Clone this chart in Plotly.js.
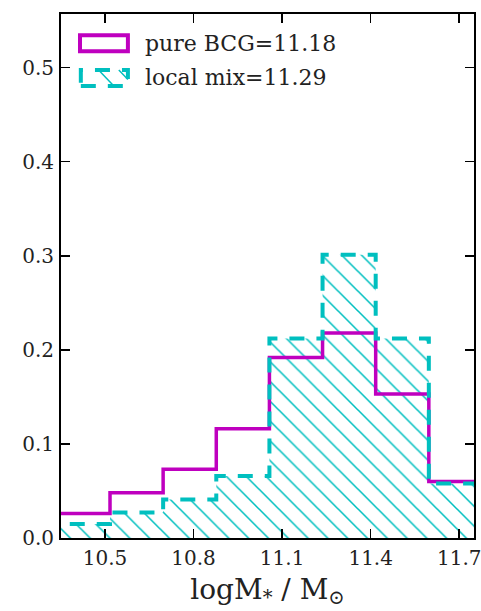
<!DOCTYPE html>
<html>
<head>
<meta charset="utf-8">
<script src="https://cdn.plot.ly/plotly-3.0.1.min.js"></script>
<style>
  html, body { margin: 0; padding: 0; background: #fff; }
  #chart { width: 481px; height: 611px; }
</style>
</head>
<body>
<div id="chart"></div>
<script>
// ---- data ----
const binEdges = [10.337, 10.517, 10.697, 10.877, 11.057, 11.237, 11.417, 11.597, 11.777];
const pureBCG  = [0.026, 0.048, 0.073, 0.116, 0.192, 0.218, 0.153, 0.060];
const localMix = [0.015, 0.027, 0.041, 0.066, 0.212, 0.301, 0.212, 0.058];
const seriesNames = ["pure BCG=11.18", "local mix=11.29"];
const xTicks = [10.5, 10.8, 11.1, 11.4, 11.7];
const xTickLabels = ["10.5", "10.8", "11.1", "11.4", "11.7"];
const yTicks = [0.0, 0.1, 0.2, 0.3, 0.4, 0.5];
const yTickLabels = ["0.0", "0.1", "0.2", "0.3", "0.4", "0.5"];

const MAGENTA = "#bf00bf";
const CYAN = "#00bfbf";
const FONT = "DejaVu Serif";

// step outline (histtype='step'): rise from 0 at first edge, steps, fall to 0 at last edge
function stepXY(edges, vals) {
  const x = [edges[0]], y = [0];
  for (let i = 0; i < vals.length; i++) { x.push(edges[i]); y.push(vals[i]); }
  x.push(edges[edges.length - 1]); y.push(vals[vals.length - 1]);
  x.push(edges[edges.length - 1]); y.push(0);
  return {x, y};
}
const sB = stepXY(binEdges, pureBCG);
const sL = stepXY(binEdges, localMix);

const traces = [
  { // hatched fill of local mix
    type: "scatter", mode: "lines", x: sL.x, y: sL.y,
    line: {shape: "hv", width: 0, color: CYAN},
    fill: "tozeroy", fillcolor: "rgba(0,0,0,0)",
    fillpattern: {shape: "\\", fgcolor: CYAN, fgopacity: 1, bgcolor: "rgba(0,0,0,0)",
                  size: 14, solidity: 0.11, fillmode: "overlay"},
    showlegend: false, hoverinfo: "skip"
  },
  {
    type: "scatter", mode: "lines", name: seriesNames[0], x: sB.x, y: sB.y,
    line: {shape: "hv", width: 3.5, color: MAGENTA},
    showlegend: false
  },
  {
    type: "scatter", mode: "lines", name: seriesNames[1], x: sL.x, y: sL.y,
    line: {shape: "hv", width: 4, color: CYAN, dash: "15px,12px"},
    showlegend: false
  }
];

// custom legend (patch-style keys as in the reference)
const shapes = [
  {type: "rect", xref: "paper", yref: "paper", x0: 0.046, x1: 0.162, y0: 0.9288, y1: 0.9593,
   line: {color: MAGENTA, width: 4}, fillcolor: "rgba(0,0,0,0)"},
  {type: "rect", xref: "paper", yref: "paper", x0: 0.048, x1: 0.162, y0: 0.8626, y1: 0.8931,
   line: {color: CYAN, width: 4, dash: "15px,12px"}, fillcolor: "rgba(0,0,0,0)"},
  {type: "line", xref: "paper", yref: "paper", x0: 0.091, x1: 0.128, y0: 0.8931, y1: 0.8626,
   line: {color: CYAN, width: 1.5}},
  {type: "line", xref: "paper", yref: "paper", x0: 0.140, x1: 0.162, y0: 0.8931, y1: 0.8750,
   line: {color: CYAN, width: 1.5}}
];
const annotations = [
  {xref: "paper", yref: "paper", x: 0.198, y: 0.943, xanchor: "left", yanchor: "middle",
   text: seriesNames[0], showarrow: false, font: {family: FONT, size: 22, color: "#222"}},
  {xref: "paper", yref: "paper", x: 0.198, y: 0.879, xanchor: "left", yanchor: "middle",
   text: seriesNames[1], showarrow: false, font: {family: FONT, size: 22, color: "#222"}}
];

const layout = {
  width: 481, height: 611,
  margin: {l: 61, r: 7, t: 14, b: 73},
  paper_bgcolor: "#fff", plot_bgcolor: "#fff",
  font: {family: FONT, color: "#222"},
  showlegend: false,
  xaxis: {
    range: [10.351, 11.75], tickvals: xTicks, ticktext: xTickLabels,
    ticks: "inside", ticklen: 9, tickwidth: 1.5, tickcolor: "#000",
    showline: true, linecolor: "#000", linewidth: 2, mirror: "ticks",
    showgrid: false, zeroline: false, ticklabeloverflow: "allow",
    tickfont: {family: FONT, size: 20, color: "#222"}, ticklabelstandoff: 1,
    title: {text: "logM<sub>*</sub> / M<sub>⊙</sub>", font: {family: FONT, size: 28, color: "#222"}, standoff: 10}
  },
  yaxis: {
    range: [0, 0.557], tickvals: yTicks, ticktext: yTickLabels,
    ticks: "inside", ticklen: 9, tickwidth: 1.5, tickcolor: "#000",
    showline: true, linecolor: "#000", linewidth: 2, mirror: "ticks",
    showgrid: false, zeroline: false,
    tickfont: {family: FONT, size: 20, color: "#222"}, ticklabelstandoff: 1
  },
  shapes: shapes,
  annotations: annotations
};

Plotly.newPlot("chart", traces, layout, {staticPlot: true, displayModeBar: false});
</script>
</body>
</html>
